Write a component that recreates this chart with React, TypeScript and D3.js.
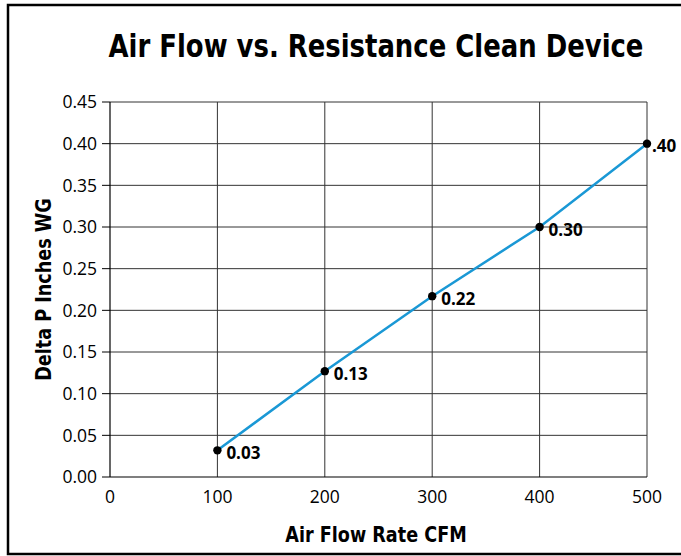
import React from "react";
import * as d3 from "d3";

const airFlow = [100, 200, 300, 400, 500];
const deltaP = [0.032, 0.127, 0.217, 0.3, 0.4];
const pointLabels = ["0.03", "0.13", "0.22", "0.30", ".40"];
const xTicks = [0, 100, 200, 300, 400, 500];
const yTicks = [0, 0.05, 0.1, 0.15, 0.2, 0.25, 0.3, 0.35, 0.4, 0.45];

const title = "Air Flow vs. Resistance Clean Device";
const xTitle = "Air Flow Rate CFM";
const yTitle = "Delta P Inches WG";

export default function App() {
  const W = 681;
  const H = 556;
  const left = 110, right = 647, top = 102, bottom = 477;
  const x = d3.scaleLinear().domain([0, 500]).range([left, right]);
  const y = d3.scaleLinear().domain([0, 0.45]).range([bottom, top]);
  const line = d3
    .line<number>()
    .x((_, i) => x(airFlow[i]))
    .y((d) => y(d));
  const condensed = "'DejaVu Sans Condensed', 'DejaVu Sans', sans-serif";
  const tickFont = "'Open Sans', 'DejaVu Sans', sans-serif";
  return (
    <svg
      width={W}
      height={H}
      style={{ position: "fixed", left: 0, top: 0, background: "#fff" }}
    >
      <rect x={0} y={0} width={W} height={H} fill="#fff" />
      <rect x={8} y={5} width={720} height={549} fill="none" stroke="#000" strokeWidth={2.5} />
      <text
        transform="translate(376,57) scale(0.9,1)"
        textAnchor="middle"
        fontFamily={condensed}
        fontWeight="bold"
        fontSize={32}
        fill="#000"
      >
        {title}
      </text>
      {/* gridlines */}
      {xTicks.filter((t) => t > 0).map((t) => (
        <line key={"gx" + t} x1={x(t)} x2={x(t)} y1={top} y2={bottom} stroke="#333" strokeWidth={1} />
      ))}
      {yTicks.filter((t) => t > 0).map((t) => (
        <line key={"gy" + t} x1={left} x2={right} y1={y(t)} y2={y(t)} stroke="#333" strokeWidth={1} />
      ))}
      {/* axes */}
      <line x1={left} x2={left} y1={top} y2={bottom} stroke="#000" strokeWidth={1.2} />
      <line x1={left} x2={right} y1={bottom} y2={bottom} stroke="#000" strokeWidth={1.2} />
      {yTicks.map((t) => (
        <g key={"yt" + t}>
          <line x1={left - 8} x2={left} y1={y(t)} y2={y(t)} stroke="#000" strokeWidth={1} />
          <text
            x={97}
            y={y(t)}
            dy="0.36em"
            textAnchor="end"
            fontFamily={tickFont}
            fontSize={17.5}
            fill="#000"
          >
            {t.toFixed(2)}
          </text>
        </g>
      ))}
      {xTicks.map((t) => (
        <text
          key={"xt" + t}
          x={x(t)}
          y={503}
          textAnchor="middle"
          fontFamily={tickFont}
          fontSize={17.5}
          fill="#000"
        >
          {t}
        </text>
      ))}
      <text
        transform="translate(376,542) scale(0.89,1)"
        textAnchor="middle"
        fontFamily={condensed}
        fontWeight="bold"
        fontSize={22}
        fill="#000"
      >
        {xTitle}
      </text>
      <text
        transform={`translate(51,${(top + bottom) / 2}) rotate(-90) scale(0.89,1)`}
        textAnchor="middle"
        fontFamily={condensed}
        fontWeight="bold"
        fontSize={22}
        fill="#000"
      >
        {yTitle}
      </text>
      <path d={line(deltaP) || ""} fill="none" stroke="#1a98d5" strokeWidth={2.5} />
      {deltaP.map((v, i) => (
        <g key={"p" + i}>
          <circle cx={x(airFlow[i])} cy={y(v)} r={4.2} fill="#000" />
          <text
            x={x(airFlow[i]) + (i === 4 ? 5 : 9)}
            y={y(v)}
            dy="0.5em"
            fontFamily={tickFont}
            fontWeight="bold"
            fontSize={17}
            fill="#000"
          >
            {pointLabels[i]}
          </text>
        </g>
      ))}
    </svg>
  );
}
